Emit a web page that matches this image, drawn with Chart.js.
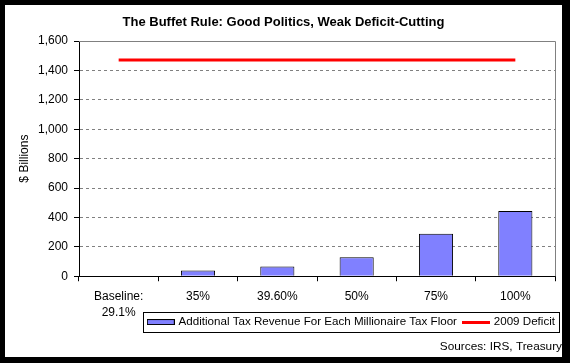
<!DOCTYPE html>
<html><head><meta charset="utf-8">
<script src="https://cdn.jsdelivr.net/npm/chart.js@4/dist/chart.umd.min.js"></script>
<style>
html,body{margin:0;padding:0;background:#000;width:570px;height:363px;overflow:hidden;}
#wrap{position:absolute;left:5px;top:5px;width:557px;height:352px;background:#fff;}
canvas{display:block;}
</style></head><body>
<div id="wrap"><canvas id="c" width="557" height="352"></canvas></div>
<script>
const categories = [['Baseline:', '29.1%'], '35%', '39.60%', '50%', '75%', '100%'];
const revenue = [0, 39, 66, 130, 289, 444];
const deficit2009 = [1470, 1470, 1470, 1470, 1470, 1470];
const yTickValues = [0, 200, 400, 600, 800, 1000, 1200, 1400, 1600];
const seriesNames = ['Additional Tax Revenue For Each Millionaire Tax Floor', '2009 Deficit'];
const titleText = 'The Buffet Rule: Good Politics, Weak Deficit-Cutting';
const sourceText = 'Sources: IRS, Treasury';
const yTitle = '$ Billions';

Chart.defaults.font.family = '"Liberation Sans", Arial, sans-serif';
Chart.defaults.font.size = 12;
Chart.defaults.color = '#000';

function swatch(kind) {
  const c = document.createElement('canvas');
  c.width = 28;
  c.height = kind === 'bar' ? 6 : 3;
  const g = c.getContext('2d');
  if (kind === 'bar') {
    g.fillStyle = '#8080FF';
    g.fillRect(0, 0, 28, 6);
    g.strokeStyle = '#000';
    g.lineWidth = 1;
    g.strokeRect(0.5, 0.5, 27, 5);
  } else {
    g.fillStyle = '#FF0000';
    g.fillRect(0, 0, 28, 3);
  }
  return c;
}
const barSwatch = swatch('bar');
const lineSwatch = swatch('line');

const frame = {
  id: 'frame',
  afterLayout(chart) {
    // let the two-line category label extend below the axis box without clipping
    chart.scales.x.bottom += 14;
  },
  beforeDatasetsDraw(chart) {
    const {ctx, chartArea: a} = chart;
    ctx.save();
    ctx.strokeStyle = '#808080';
    ctx.lineWidth = 1;
    ctx.beginPath();
    ctx.moveTo(a.left, Math.round(a.top) + 0.5);
    ctx.lineTo(Math.round(a.right) + 0.5, Math.round(a.top) + 0.5);
    ctx.lineTo(Math.round(a.right) + 0.5, a.bottom);
    ctx.stroke();
    ctx.restore();
  },
  afterDraw(chart) {
    const hb = chart.legend.legendHitBoxes;
    if (!hb || !hb.length) return;
    const l = Math.min(...hb.map(b => b.left));
    const r = Math.max(...hb.map(b => b.left + b.width));
    const t = Math.min(...hb.map(b => b.top));
    const bt = Math.max(...hb.map(b => b.top + b.height));
    const ctx = chart.ctx;
    ctx.save();
    ctx.strokeStyle = '#000';
    ctx.lineWidth = 1;
    const x0 = Math.round(l - 6), x1 = Math.round(r + 4);
    const y0 = Math.round(t - 4), y1 = Math.round(bt + 4);
    ctx.strokeRect(x0 + 0.5, y0 + 0.5, x1 - x0, y1 - y0);
    ctx.restore();
  }
};

new Chart(document.getElementById('c'), {
  type: 'bar',
  data: {
    labels: categories,
    datasets: [
      {
        type: 'bar',
        label: seriesNames[0],
        data: revenue,
        yAxisID: 'y',
        backgroundColor: '#8080FF',
        borderColor: '#000',
        borderWidth: 1,
        barPercentage: 0.43,
        categoryPercentage: 1
      },
      {
        type: 'line',
        label: seriesNames[1],
        data: deficit2009,
        yAxisID: 'y',
        borderColor: '#FF0000',
        backgroundColor: '#FF0000',
        borderWidth: 3,
        pointRadius: 0,
        fill: false
      }
    ]
  },
  options: {
    responsive: false,
    devicePixelRatio: 1,
    animation: false,
    layout: {padding: 0},
    scales: {
      x: {
        type: 'category',
        offset: true,
        grid: {offset: true, drawOnChartArea: false, tickLength: 5, tickColor: '#000', color: '#000'},
        border: {color: '#000'},
        ticks: {color: '#000', font: {size: 12, lineHeight: 1.35}, padding: 7, maxRotation: 0, autoSkip: false},
        afterFit(s) { s.height = 33; }
      },
      y: {
        type: 'linear',
        position: 'left',
        min: 0,
        max: 1600,
        afterBuildTicks(s) { s.ticks = yTickValues.map(v => ({value: v})); },
        ticks: {color: '#000', padding: 6, callback: v => v.toLocaleString('en-US')},
        grid: {color: '#808080', tickColor: '#000', tickLength: 5, tickBorderDash: []},
        border: {color: '#000', dash: [3, 3]},
        title: {display: true, text: yTitle, color: '#000', font: {size: 12}, padding: {top: 12.8, bottom: 0}},
        afterFit(s) { s.width = 74; }
      },
      yr: {
        type: 'linear',
        position: 'right',
        display: true,
        grid: {display: false},
        ticks: {display: false},
        border: {display: false},
        afterFit(s) { s.width = 7; }
      }
    },
    plugins: {
      title: {
        display: true,
        text: titleText,
        color: '#000',
        font: {size: 13, weight: 'bold'},
        padding: {top: 9.2, bottom: 11.2}
      },
      subtitle: {
        display: true,
        text: sourceText,
        position: 'bottom',
        align: 'end',
        color: '#000',
        font: {size: 11.8},
        padding: {top: 2, bottom: 3}
      },
      legend: {
        position: 'bottom',
        align: 'end',
        labels: {
          usePointStyle: true,
          pointStyleWidth: 24,
          boxHeight: 6,
          padding: 7,
          color: '#000',
          font: {size: 11.6},
          generateLabels(chart) {
            const items = Chart.defaults.plugins.legend.labels.generateLabels(chart);
            items[0].pointStyle = barSwatch;
            items[1].pointStyle = lineSwatch;
            return items;
          }
        }
      },
      tooltip: {enabled: false}
    }
  },
  plugins: [frame]
});
</script>
</body></html>
